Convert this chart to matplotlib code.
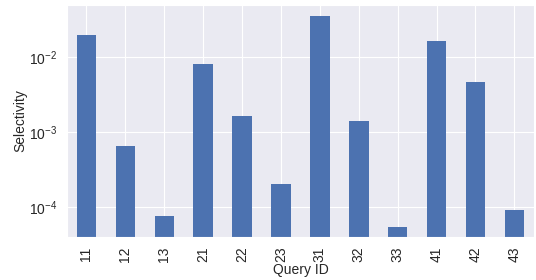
import matplotlib
matplotlib.use("Agg")
import matplotlib.pyplot as plt
import seaborn as sns

# selectivity per query
queries = ["11", "12", "13", "21", "22", "23", "31", "32", "33", "41", "42", "43"]
selectivity = [0.0195, 6.45e-4, 7.6e-5, 8.0e-3, 1.62e-3, 2.02e-4,
               0.0347, 1.39e-3, 5.42e-5, 0.0162, 4.6e-3, 9.1e-5]

sns.set_style("darkgrid")
plt.rcParams["font.family"] = ["Liberation Sans", "DejaVu Sans"]
plt.rcParams["mathtext.fontset"] = "custom"
plt.rcParams["mathtext.rm"] = "Liberation Sans"
plt.rcParams["mathtext.it"] = "Liberation Sans:italic"
plt.rcParams["mathtext.bf"] = "Liberation Sans:bold"

fig = plt.figure(figsize=(5.36, 2.8), dpi=100)
ax = fig.add_axes([0.125, 0.154, 0.871, 0.828])

x = list(range(len(queries)))
ax.bar(x, selectivity, width=0.5, color="#4C72B0", linewidth=0)
ax.set_yscale("log")
ax.set_ylim(4.0e-5, 0.0487)
ax.set_xlim(-0.5, len(queries) - 0.5)
ax.set_xticks(x)
ax.set_xticklabels(queries, rotation=90)
ax.tick_params(labelsize=10, colors="#262626", pad=3.5)
ax.set_xlabel("Query ID", fontsize=10, color="#262626", labelpad=0.5)
ax.set_ylabel("Selectivity", fontsize=10, color="#262626", labelpad=1.5)

fig.savefig("out.png", dpi=100)
